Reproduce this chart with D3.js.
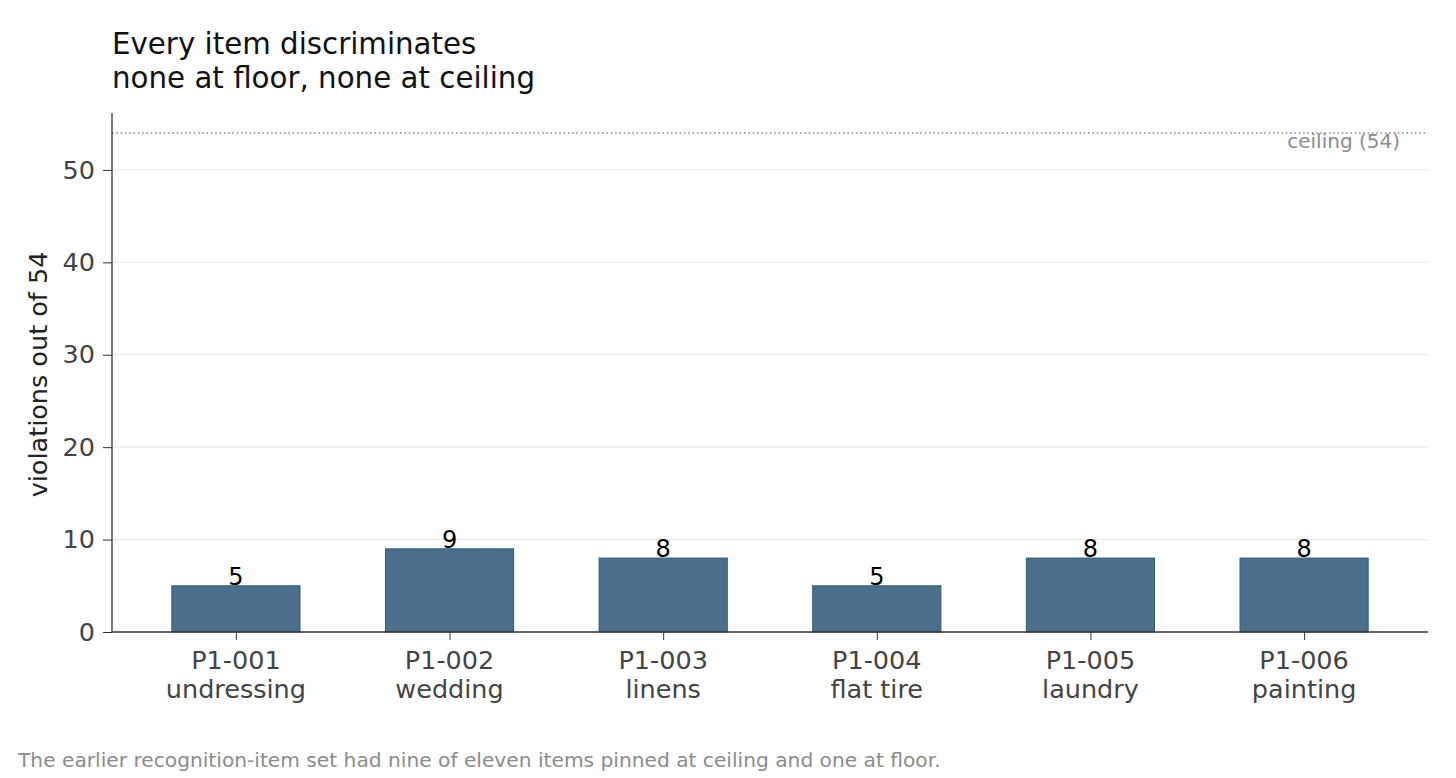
<!DOCTYPE html>
<html>
<head>
<meta charset="utf-8">
<script src="https://cdn.jsdelivr.net/npm/d3@7"></script>
<style>
  html, body { margin: 0; padding: 0; background: #fff; }
  svg { display: block; font-family: "DejaVu Sans", sans-serif; }
</style>
</head>
<body>
<div id="chart"></div>
<script>
const itemIds = ["P1-001", "P1-002", "P1-003", "P1-004", "P1-005", "P1-006"];
const itemNames = ["undressing", "wedding", "linens", "flat tire", "laundry", "painting"];
const violations = [5, 9, 8, 5, 8, 8];
const yTicks = [0, 10, 20, 30, 40, 50];
const ceiling = 54;

const width = 1456;
const height = 778;
const plot = { left: 112, right: 1428, top: 113, bottom: 632 };

const svg = d3.select("#chart")
  .append("svg")
  .attr("width", width)
  .attr("height", height);

svg.append("rect")
  .attr("width", width)
  .attr("height", height)
  .attr("fill", "#fff");

const x = d3.scalePoint()
  .domain(itemIds)
  .range([plot.left, plot.right])
  .padding(0.58);

const y = d3.scaleLinear()
  .domain([0, 56.16])
  .range([plot.bottom, plot.top]);

const barWidth = x.step() * 0.6;

// grid lines
svg.append("g")
  .selectAll("line")
  .data(yTicks.filter((d) => d > 0))
  .join("line")
  .attr("x1", plot.left)
  .attr("x2", plot.right)
  .attr("y1", (d) => y(d))
  .attr("y2", (d) => y(d))
  .attr("stroke", "#e6e6e6")
  .attr("stroke-width", 1);

// ceiling reference
svg.append("line")
  .attr("x1", plot.left)
  .attr("x2", plot.right)
  .attr("y1", y(ceiling))
  .attr("y2", y(ceiling))
  .attr("stroke", "#8a8a8a")
  .attr("stroke-width", 1.6)
  .attr("stroke-dasharray", "1.6,2.7");

svg.append("text")
  .attr("x", plot.right - 28)
  .attr("y", y(ceiling) + 15)
  .attr("text-anchor", "end")
  .attr("font-size", 20)
  .attr("fill", "#8c8c8c")
  .text(`ceiling (${ceiling})`);

// bars
const data = itemIds.map((id, i) => ({ id, name: itemNames[i], value: violations[i] }));

svg.append("g")
  .selectAll("rect")
  .data(data)
  .join("rect")
  .attr("x", (d) => x(d.id) - barWidth / 2)
  .attr("y", (d) => y(d.value))
  .attr("width", barWidth)
  .attr("height", (d) => y(0) - y(d.value))
  .attr("fill", "#4a6f8a")
  .attr("stroke", "#2f5a79")
  .attr("stroke-width", 1);

svg.append("g")
  .selectAll("text")
  .data(data)
  .join("text")
  .attr("x", (d) => x(d.id))
  .attr("y", (d) => y(d.value) - 1)
  .attr("text-anchor", "middle")
  .attr("font-size", 24)
  .attr("fill", "#000")
  .text((d) => d.value);

// y axis
const yAxis = svg.append("g")
  .attr("transform", `translate(${plot.left},0)`)
  .call(d3.axisLeft(y).tickValues(yTicks).tickSize(9).tickPadding(8));
yAxis.select(".domain").remove();
yAxis.selectAll(".tick line").attr("stroke", "#333");
yAxis.selectAll(".tick text")
  .attr("font-size", 25.5)
  .attr("font-family", "DejaVu Sans, sans-serif")
  .attr("fill", "#444");

svg.append("line")
  .attr("x1", plot.left)
  .attr("x2", plot.left)
  .attr("y1", plot.top)
  .attr("y2", plot.bottom)
  .attr("stroke", "#333")
  .attr("stroke-width", 1.3);

// x axis
const xAxis = svg.append("g")
  .attr("transform", `translate(0,${plot.bottom})`)
  .call(d3.axisBottom(x).tickSize(8).tickFormat(""));
xAxis.select(".domain").remove();
xAxis.selectAll(".tick line").attr("stroke", "#333");

const xLabels = svg.append("g")
  .selectAll("text")
  .data(data)
  .join("text")
  .attr("text-anchor", "middle")
  .attr("font-size", 25.5)
  .attr("fill", "#444");
xLabels.append("tspan")
  .attr("x", (d) => x(d.id))
  .attr("y", 669)
  .text((d) => d.id);
xLabels.append("tspan")
  .attr("x", (d) => x(d.id))
  .attr("y", 698)
  .text((d) => d.name);

svg.append("line")
  .attr("x1", plot.left)
  .attr("x2", plot.right)
  .attr("y1", plot.bottom)
  .attr("y2", plot.bottom)
  .attr("stroke", "#333")
  .attr("stroke-width", 1.3);

// y label
svg.append("text")
  .attr("transform", `translate(47,${(plot.top + plot.bottom) / 2 + 2}) rotate(-90)`)
  .attr("text-anchor", "middle")
  .attr("font-size", 25.5)
  .attr("fill", "#222")
  .text("violations out of 54");

// title
const title = svg.append("text")
  .attr("font-size", 29.3)
  .attr("fill", "#111");
title.append("tspan").attr("x", plot.left).attr("y", 54).text("Every item discriminates");
title.append("tspan").attr("x", plot.left).attr("y", 88).text("none at floor, none at ceiling");

// footnote
svg.append("text")
  .attr("x", 18)
  .attr("y", 767)
  .attr("font-size", 20.2)
  .attr("fill", "#8c8c8c")
  .text("The earlier recognition-item set had nine of eleven items pinned at ceiling and one at floor.");
</script>
</body>
</html>
